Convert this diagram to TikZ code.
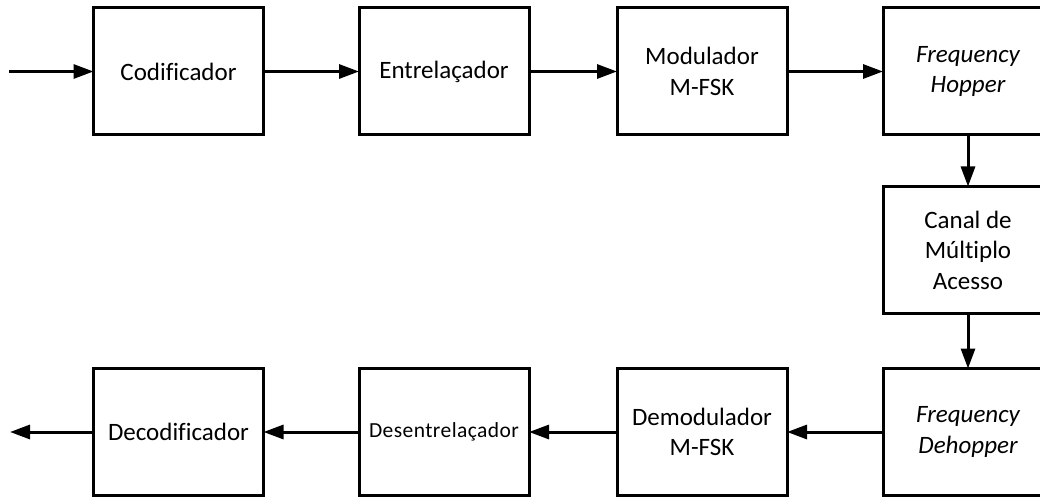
\documentclass[tikz,border=0pt]{standalone}
\usepackage{fontspec}
\setmainfont[Ligatures=CommonOff]{Carlito}
\newfontfamily\spacedfont[Ligatures=CommonOff,LetterSpace=2]{Carlito}
\usetikzlibrary{arrows.meta}
\begin{document}
\begin{tikzpicture}[x=1pt,y=-1pt,
  blk/.style={draw,line width=3pt,rectangle,minimum width=170pt,minimum height=127pt,
    inner sep=0pt,outer sep=0pt,align=center,font=\fontsize{25}{30.5}\selectfont},
  conn/.style={line width=3pt,-{Triangle[length=20pt,width=14pt]}}]
\useasboundingbox (0,0) rectangle (1040,497);
\clip (0,0) rectangle (1040,497);
\node[blk] (cod) at (178.5,71.5) {Codificador};
\node[blk] (ent) at (444,71.5) {Entrelaçador};
\node[blk] (mod) at (702,71.5) {Modulador\\M-FSK};
\node[blk] (hop) at (968,71.5) {\itshape Frequency\\\itshape Hopper};
\node[blk] (can) at (968,250) {Canal de\\Múltiplo\\Acesso};
\node[blk] (deh) at (968,432) {\itshape Frequency\\\itshape Dehopper};
\node[blk] (dem) at (702,432) {Demodulador\\M-FSK};
\node[blk,font=\spacedfont\fontsize{21.5}{26}\selectfont] (dsi) at (444,432) {Desentrelaçador};
\node[blk] (dec) at (178.5,432) {Decodificador};
\coordinate (in) at (9,71.5);
\coordinate (out) at (10,432);
\draw[conn] (in) -- (cod);
\draw[conn] (cod) -- (ent);
\draw[conn] (ent) -- (mod);
\draw[conn] (mod) -- (hop);
\draw[conn] (hop) -- (can);
\draw[conn] (can) -- (deh);
\draw[conn] (deh) -- (dem);
\draw[conn] (dem) -- (dsi);
\draw[conn] (dsi) -- (dec);
\draw[conn] (dec) -- (out);
\end{tikzpicture}
\end{document}
